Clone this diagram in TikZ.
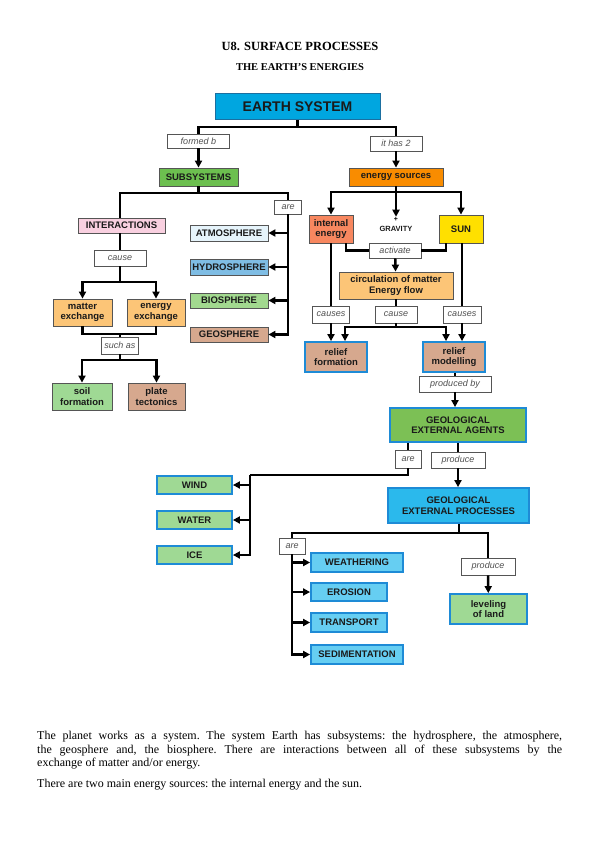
\documentclass[tikz,border=0pt]{standalone}
\usepackage{fontspec}
\setmainfont{Liberation Serif}
\newfontfamily\sansf{Liberation Sans}
\usetikzlibrary{arrows.meta}
\definecolor{cEarth}{HTML}{00A6E0}
\definecolor{cEarthB}{HTML}{1B6FA0}
\definecolor{cSub}{HTML}{6CBF4F}
\definecolor{cOrange}{HTML}{F98C00}
\definecolor{cPink}{HTML}{F9D0E0}
\definecolor{cAtmo}{HTML}{E6F4FB}
\definecolor{cHydro}{HTML}{7FBDE4}
\definecolor{cBio}{HTML}{A2D98F}
\definecolor{cTan}{HTML}{D6A88E}
\definecolor{cLOrange}{HTML}{FCC577}
\definecolor{cSalmon}{HTML}{F7875F}
\definecolor{cSun}{HTML}{FFE000}
\definecolor{cGea}{HTML}{7CC055}
\definecolor{cGreenL}{HTML}{9FD994}
\definecolor{cGep}{HTML}{2BB9EC}
\definecolor{cProc}{HTML}{66CEF2}
\definecolor{cBlueB}{HTML}{1E8BD6}
\definecolor{cGrayB}{HTML}{555555}
\definecolor{cLbl}{HTML}{505050}
\definecolor{cTxt}{HTML}{1A1A1A}
\tikzset{
  bx/.style={draw=cGrayB, line width=0.8pt, rectangle, inner sep=0pt, align=center,
    text=cTxt, font=\sansf\bfseries\fontsize{9.5}{10.5}\selectfont},
  bbx/.style={bx, draw=cBlueB, line width=1.8pt},
  lbl/.style={draw=cGrayB, line width=0.6pt, fill=white, rectangle, inner sep=0pt,
    text=cLbl, font=\sansf\itshape\fontsize{9}{10}\selectfont},
  ln/.style={line width=2.5pt, black},
  arr/.style={ln, -{Triangle[length=7pt,width=7pt]}},
}
\begin{document}
\begin{tikzpicture}[x=1pt,y=-1pt]
\useasboundingbox (0,0) rectangle (599,848);
% titles
\node (t1) at (300,46) {\bfseries\fontsize{12.5}{14}\selectfont U8. SURFACE PROCESSES};
\node (t2) at (300,67) {\bfseries\fontsize{10.5}{12}\selectfont THE EARTH'S ENERGIES};
% nodes
\node[bx, fill=cEarth, draw=cEarthB, line width=1pt, minimum width=165pt, minimum height=26pt,
  font=\sansf\bfseries\fontsize{14}{16}\selectfont] (earth) at (297.5,107) {EARTH SYSTEM};
\node[lbl, minimum width=62pt, minimum height=14pt] (formed) at (198.5,141) {formed b};
\node[lbl, minimum width=52pt, minimum height=15pt] (ithas) at (396,143.5) {it has 2};
\node[bx, fill=cSub, minimum width=79pt, minimum height=18pt] (subsys) at (198.5,177) {SUBSYSTEMS};
\node[bx, fill=cOrange, minimum width=94pt, minimum height=18pt] (esrc) at (396,177) {energy sources};
\node[bx, fill=cPink, minimum width=87pt, minimum height=15pt] (inter) at (121.5,225.5) {INTERACTIONS};
\node[lbl, minimum width=27pt, minimum height=14pt] (are1) at (288,207) {are};
\node[bx, fill=cAtmo, minimum width=78pt, minimum height=16pt] (atmo) at (229,233) {ATMOSPHERE};
\node[bx, fill=cHydro, minimum width=78pt, minimum height=16pt] (hydro) at (229,267) {HYDROSPHERE};
\node[bx, fill=cBio, minimum width=78pt, minimum height=15pt] (bio) at (229,300.5) {BIOSPHERE};
\node[bx, fill=cTan, minimum width=78pt, minimum height=15pt] (geo) at (229,334.5) {GEOSPHERE};
\node[lbl, minimum width=52pt, minimum height=16pt] (cause1) at (120,258) {cause};
\node[bx, fill=cLOrange, minimum width=59pt, minimum height=27pt] (matter) at (82.5,312.5) {matter\\exchange};
\node[bx, fill=cLOrange, minimum width=58pt, minimum height=27pt] (energy) at (156,312.5) {energy\\exchange};
\node[lbl, minimum width=37pt, minimum height=17pt] (suchas) at (120,345.5) {such as};
\node[bx, fill=cGreenL, minimum width=60pt, minimum height=27pt] (soil) at (82,396.5) {soil\\formation};
\node[bx, fill=cTan, minimum width=57pt, minimum height=27pt] (plate) at (156.5,396.5) {plate\\tectonics};
\node[bx, fill=cSalmon, minimum width=44pt, minimum height=28pt] (internal) at (331,229) {internal\\energy};
\node[inner sep=0pt, font=\sansf\bfseries\fontsize{7}{8}\selectfont] (plus) at (396,219) {+};
\node[inner sep=0pt, text=cTxt, font=\sansf\bfseries\fontsize{7.5}{8}\selectfont] (gravity) at (396,228.5) {GRAVITY};
\node[bx, fill=cSun, minimum width=44pt, minimum height=28pt] (sun) at (461,229) {SUN};
\node[lbl, minimum width=52pt, minimum height=15pt] (activate) at (395,250.5) {activate};
\node[bx, fill=cLOrange, minimum width=114pt, minimum height=27pt] (circ) at (396,285.5) {circulation of matter\\Energy flow};
\node[lbl, minimum width=37pt, minimum height=17pt] (causes1) at (331,314.5) {causes};
\node[lbl, minimum width=42pt, minimum height=17pt] (cause2) at (396,314.5) {cause};
\node[lbl, minimum width=38pt, minimum height=17pt] (causes2) at (462,314.5) {causes};
\node[bbx, fill=cTan, minimum width=62pt, minimum height=30pt] (rform) at (336,357) {relief\\formation};
\node[bbx, fill=cTan, minimum width=62pt, minimum height=30pt] (rmod) at (454,357) {relief\\modelling};
\node[lbl, minimum width=72pt, minimum height=16pt] (prodby) at (455,384) {produced by};
\node[bbx, fill=cGea, minimum width=136pt, minimum height=34pt] (gea) at (458,425) {GEOLOGICAL\\EXTERNAL AGENTS};
\node[lbl, minimum width=26pt, minimum height=18pt] (are2) at (408,459) {are};
\node[lbl, minimum width=54pt, minimum height=16pt] (produce1) at (458,460) {produce};
\node[bbx, fill=cGreenL, minimum width=75pt, minimum height=18pt] (wind) at (194.5,485) {WIND};
\node[bbx, fill=cGreenL, minimum width=75pt, minimum height=18pt] (water) at (194.5,520) {WATER};
\node[bbx, fill=cGreenL, minimum width=75pt, minimum height=18pt] (ice) at (194.5,555) {ICE};
\node[bbx, fill=cGep, minimum width=141pt, minimum height=35pt] (gep) at (458.5,505.5) {GEOLOGICAL\\EXTERNAL PROCESSES};
\node[lbl, minimum width=26pt, minimum height=16pt] (are3) at (292,546) {are};
\node[bbx, fill=cProc, minimum width=92pt, minimum height=19pt] (weath) at (357,562.5) {WEATHERING};
\node[bbx, fill=cProc, minimum width=76pt, minimum height=18pt] (eros) at (349,592) {EROSION};
\node[bbx, fill=cProc, minimum width=76pt, minimum height=19pt] (trans) at (349,622.5) {TRANSPORT};
\node[bbx, fill=cProc, minimum width=92pt, minimum height=19pt] (sedim) at (357,654.5) {SEDIMENTATION};
\node[lbl, minimum width=54pt, minimum height=17pt] (produce2) at (488,566.5) {produce};
\node[bbx, fill=cGreenL, minimum width=77pt, minimum height=30pt] (level) at (488.5,609) {leveling\\of land};
% junctions
\coordinate (j1) at (297.5,127);
\coordinate (j2) at (198.5,193);
\coordinate (j4) at (120,282);
\coordinate (j5) at (120,334);
\coordinate (j5b) at (120,360);
\coordinate (j6) at (396,192);
\coordinate (j7) at (396,327);
\coordinate (j8) at (250,475);
\coordinate (j9) at (459,533);
% connectors
\draw[ln] (earth.south) -- (j1);
\draw[ln] (formed.north) |- (j1) -| (ithas.north);
\draw[arr] (formed) -- (subsys);
\draw[arr] (ithas) -- (esrc);
\draw[ln] (subsys.south) -- (j2);
\draw[ln] (inter.north -| j4) |- (j2) -| (are1.north);
\draw[arr] (are1.south) |- (geo.east);
\draw[arr] (are1.south |- atmo.east) -- (atmo.east);
\draw[arr] (are1.south |- hydro.east) -- (hydro.east);
\draw[arr] (are1.south |- bio.east) -- (bio.east);
\draw[ln] (inter.south -| j4) -- (cause1.north);
\draw[ln] (cause1.south) -- (j4);
\draw[arr] (j4) -| (matter.north);
\draw[arr] (j4) -| (energy.north);
\draw[ln] (matter.south) |- (j5) -| (energy.south);
\draw[ln] (j5) -- (suchas.north);
\draw[ln] (suchas.south) -- (j5b);
\draw[arr] (j5b) -| (soil.north);
\draw[arr] (j5b) -| (plate.north);
\draw[ln] (esrc.south) -- (j6);
\draw[arr] (j6) -| (internal.north);
\draw[arr] (j6) -| (sun.north);
\draw[arr] (j6) -- (plus.north);
\draw[ln] ([xshift=15pt]internal.south) |- (activate.west);
\draw[ln] ([xshift=-15pt]sun.south) |- (activate.east);
\draw[arr] (activate) -- (circ);
\draw[ln] (internal) -- (causes1);
\draw[arr] (causes1.south) -- (causes1.south |- rform.north);
\draw[ln] (circ) -- (cause2);
\draw[ln] (cause2.south) -- (j7);
\draw[arr] (j7) -| ([xshift=9pt]rform.north);
\draw[arr] (j7) -| ([xshift=-8pt]rmod.north);
\draw[ln] (sun.south -| causes2) -- (causes2.north);
\draw[arr] (causes2.south) -- (causes2.south |- rmod.north);
\draw[ln] (rmod.south -| prodby) -- (prodby.north);
\draw[arr] (prodby.south) -- (prodby.south |- gea.north);
\draw[ln] (are2.north |- gea.south) -- (are2.north);
\draw[ln] (are2.south) |- (j8);
\draw[arr] (j8) |- (ice.east);
\draw[arr] (j8 |- wind.east) -- (wind.east);
\draw[arr] (j8 |- water.east) -- (water.east);
\draw[ln] (produce1.north |- gea.south) -- (produce1.north);
\draw[arr] (produce1.south) -- (produce1.south |- gep.north);
\draw[ln] (gep.south -| j9) -- (j9);
\draw[ln] (are3.north) |- (j9) -| (produce2.north);
\draw[arr] (are3.south) |- (sedim.west);
\draw[arr] (are3.south |- weath.west) -- (weath.west);
\draw[arr] (are3.south |- eros.west) -- (eros.west);
\draw[arr] (are3.south |- trans.west) -- (trans.west);
\draw[arr] (produce2) -- (level);
% text
\node[anchor=north west, inner sep=0pt] (para) at (37,731) {\parbox{525pt}{\frenchspacing\fontsize{12}{13.6}\selectfont
The planet works as a system. The system Earth has subsystems: the hydrosphere, the atmosphere,\linebreak
the geosphere and, the biosphere. There are interactions between all of these subsystems by the\linebreak
exchange of matter and/or energy.\par\vspace{7.5pt}
There are two main energy sources: the internal energy and the sun.}};
\end{tikzpicture}
\end{document}
